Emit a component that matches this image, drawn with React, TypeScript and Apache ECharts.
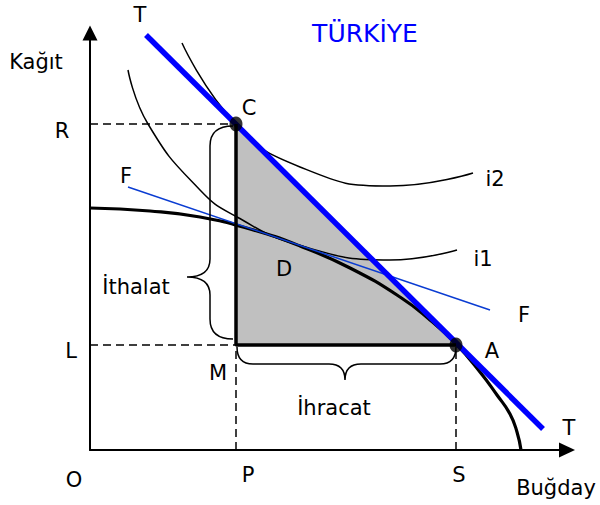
import React, { useEffect, useRef } from "react";
import * as echarts from "echarts";

// ---- data (abstract units: Buğday on x, Kağıt on y) ----
const pointC = [29.2, 65.2];
const pointM = [29.2, 21];
const pointA = [73.2, 21];
const levelR = 65.2;
const levelL = 21;
const levelP = 29.2;
const levelS = 73.2;
const tradeLineT = [[11.2, 83], [90.6, 4.2]];
const priceLineF = [[7.6, 52.6], [80, 28]];
const ppfCurve = [
  [0, 48.4], [12, 47.8], [22, 46.6], [32, 44.2], [42, 40.8], [52, 36.4],
  [62, 30.6], [68, 26], [73.2, 21.2], [78, 15.6], [81.4, 11], [84, 7.2],
  [85.4, 3.6], [86.2, 0],
];
const curveI1 = [
  [7.6, 76], [11.6, 65.2], [22, 52], [29.4, 46.6], [42, 40.9], [60, 38], [73.4, 40],
];
const curveI2 = [
  [18.4, 81.4], [29.2, 65.2], [42, 56.6], [60, 52.8], [76.6, 55.4],
];
const braceTipY = 34.6; // İthalat brace tip (Kağıt units)
const braceTipX = 51; // İhracat brace tip (Buğday units)

const labelTexts = [
  "T", "Kağıt", "TÜRKİYE", "C", "R", "F", "i2", "i1", "D", "İthalat",
  "F", "A", "L", "M", "İhracat", "O", "P", "S", "T", "Buğday",
];
const labelLayout: [number, number, number, string][] = [
  [140, 15, 21, "#000"], [36, 62, 21, "#000"], [365, 33, 25, "#0000ff"],
  [249, 108, 21, "#000"], [62, 131, 21, "#000"], [126, 176, 21, "#000"],
  [495, 179, 21, "#000"], [483, 259, 21, "#000"], [284, 269, 21, "#000"],
  [136, 287, 21, "#000"], [524, 315, 21, "#000"], [492, 351, 21, "#000"],
  [71, 351, 21, "#000"], [218, 373, 21, "#000"], [334, 408, 21, "#000"],
  [74, 480, 21, "#000"], [248, 475, 21, "#000"], [459, 475, 21, "#000"],
  [569, 428, 21, "#000"], [556, 488, 21, "#000"],
];

const FONT = '"DejaVu Sans", Verdana, sans-serif';

export default function App() {
  const ref = useRef<HTMLDivElement>(null);
  useEffect(() => {
    if (!ref.current) return;
    const chart = echarts.init(ref.current, undefined, { renderer: "svg" });
    const dashed = (pts: number[][]) => ({
      type: "line",
      data: pts,
      symbol: "none",
      silent: true,
      lineStyle: { color: "#000", width: 1.5, type: [8, 5] },
    });
    const curve = (pts: number[][], color: string, width: number, smooth: number | boolean) => ({
      type: "line",
      data: pts,
      symbol: "none",
      smooth,
      silent: true,
      lineStyle: { color, width, cap: "butt" },
    });
    chart.setOption({
      animation: false,
      backgroundColor: "#fff",
      grid: { left: 90, right: 33, top: 33, bottom: 55 },
      xAxis: {
        type: "value",
        min: 0,
        max: 95.4,
        axisLine: { show: true, symbol: ["none", "triangle"], symbolSize: [15, 16], lineStyle: { color: "#000", width: 2 } },
        axisTick: { show: false },
        axisLabel: { show: false },
        splitLine: { show: false },
      },
      yAxis: {
        type: "value",
        min: 0,
        max: 83.4,
        axisLine: { show: true, symbol: ["none", "triangle"], symbolSize: [15, 15], lineStyle: { color: "#000", width: 2 } },
        axisTick: { show: false },
        axisLabel: { show: false },
        splitLine: { show: false },
      },
      series: [
        {
          type: "custom",
          silent: true,
          data: [[0, 0]],
          renderItem: (_p: any, api: any) => ({
            type: "polygon",
            shape: { points: [pointC, pointM, pointA].map((p) => api.coord(p)) },
            style: { fill: "#c0c0c0" },
          }),
        },
        dashed([[0, levelR], [levelP, levelR]]),
        dashed([[0, levelL], [levelP, levelL]]),
        dashed([[levelP, 0], [levelP, levelL]]),
        dashed([[levelS, 0], [levelS, levelL]]),
        curve(curveI1, "#000", 1.5, 0.5),
        curve(curveI2, "#000", 1.5, 0.5),
        curve(ppfCurve, "#000", 3.2, 0.5),
        curve(priceLineF, "#0a3cd2", 1.5, false),
        curve(tradeLineT, "#0000ff", 5.5, false),
        curve([pointC, pointM, pointA], "#000", 3.5, false),
        {
          type: "scatter",
          silent: true,
          data: [pointC, pointA],
          symbol: "circle",
          symbolSize: [13, 15],
          itemStyle: { color: "#000" },
          z: 5,
        },
      ],
    });

    const pc = chart.convertToPixel({ gridIndex: 0 }, pointC) as number[];
    const pm = chart.convertToPixel({ gridIndex: 0 }, pointM) as number[];
    const pa = chart.convertToPixel({ gridIndex: 0 }, pointA) as number[];
    const tipY = (chart.convertToPixel({ gridIndex: 0 }, [0, braceTipY]) as number[])[1];
    const tipX = (chart.convertToPixel({ gridIndex: 0 }, [braceTipX, 0]) as number[])[0];

    // left brace (İthalat)
    const xr = pm[0] - 3;
    const xb = xr - 23;
    const xt = xb - 23;
    const top = pc[1] + 2;
    const bot = pm[1] - 6;
    const d1 =
      `M${xr},${top} Q${xb},${top} ${xb},${top + 20} L${xb},${tipY - 18} ` +
      `Q${xb},${tipY} ${xt},${tipY} Q${xb},${tipY} ${xb},${tipY + 18} ` +
      `L${xb},${bot - 20} Q${xb},${bot} ${xr},${bot}`;
    // bottom brace (İhracat)
    const y0 = pm[1] + 2;
    const yb = y0 + 17;
    const yt = yb + 16;
    const xl = pm[0] + 1;
    const xe = pa[0];
    const d2 =
      `M${xl},${y0} Q${xl},${yb} ${xl + 16},${yb} L${tipX - 16},${yb} ` +
      `Q${tipX},${yb} ${tipX},${yt} Q${tipX},${yb} ${tipX + 16},${yb} ` +
      `L${xe - 16},${yb} Q${xe},${yb} ${xe},${y0}`;
    echarts.graphic.registerShape("braceLeft", echarts.graphic.extendPath(d1, {}) as any);
    echarts.graphic.registerShape("braceBottom", echarts.graphic.extendPath(d2, {}) as any);

    const texts = labelTexts.map((t, i) => {
      const [x, y, size, color] = labelLayout[i];
      return {
        type: "text",
        x,
        y,
        silent: true,
        z: 10,
        style: {
          text: t,
          fill: color,
          font: `${size}px ${FONT}`,
          align: "center",
          verticalAlign: "middle",
          textAlign: "center",
          textVerticalAlign: "middle",
        },
      };
    });

    chart.setOption({
      graphic: [
        { type: "braceLeft", x: 0, y: 0, silent: true, z: 10, style: { stroke: "#000", fill: "none", lineWidth: 1.5 } },
        { type: "braceBottom", x: 0, y: 0, silent: true, z: 10, style: { stroke: "#000", fill: "none", lineWidth: 1.5 } },
        ...texts,
      ],
    });

    return () => chart.dispose();
  }, []);
  return (
    <div
      ref={ref}
      style={{ position: "fixed", left: 0, top: 0, width: 600, height: 505, background: "#fff" }}
    />
  );
}
